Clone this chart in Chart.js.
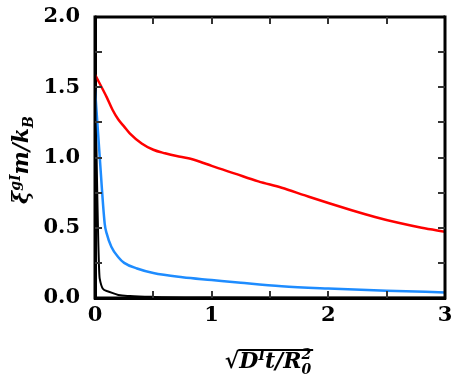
<!DOCTYPE html>
<html>
<head>
<meta charset="utf-8">
<script src="https://cdn.jsdelivr.net/npm/chart.js@4.4.0/dist/chart.umd.min.js"></script>
<style>
  html, body { margin: 0; padding: 0; background: #fff; }
  #wrap { width: 451px; height: 381px; }
</style>
</head>
<body>
<div id="wrap"><canvas id="xiChart" width="451" height="381"></canvas></div>
<script>
// --- Data ---
const redX = [0, 0.1, 0.15, 0.2, 0.25, 0.3, 0.4, 0.5, 0.6, 0.7, 0.8, 0.9, 1.0, 1.2, 1.4, 1.6, 1.8, 2.0, 2.2, 2.4, 2.6, 2.8, 3.0];
const redY = [1.59, 1.43, 1.34, 1.27, 1.22, 1.17, 1.10, 1.055, 1.03, 1.01, 0.995, 0.97, 0.94, 0.885, 0.83, 0.785, 0.73, 0.676, 0.625, 0.577, 0.535, 0.50, 0.472];

const blueX = [0, 0.04, 0.083, 0.1, 0.14, 0.2, 0.25, 0.36, 0.5, 0.75, 1.0, 1.25, 1.6, 2.0, 2.5, 3.0];
const blueY = [1.49, 1.01, 0.53, 0.46, 0.365, 0.29, 0.25, 0.21, 0.178, 0.148, 0.128, 0.108, 0.083, 0.067, 0.052, 0.04];

const blackX = [0, 0.04, 0.1, 0.2, 0.3, 0.5, 1.0, 2.0, 3.0];
const blackY = [1.6, 0.14, 0.05, 0.022, 0.014, 0.008, 0.004, 0.002, 0.001];

const xTickValues = [0, 1, 2, 3];
const yTickValues = [0, 0.5, 1.0, 1.5, 2.0];
const xMinorTicks = [0.5, 1, 1.5, 2, 2.5];
const yMinorTicks = [0.25, 0.5, 0.75, 1, 1.25, 1.5, 1.75];

function toPoints(xs, ys) {
    return xs.map((x, i) => ({ x: x, y: ys[i] }));
}

const LABEL_FONT = '"DejaVu Serif", "Liberation Serif", serif';

// --- Heavy frame + inward ticks ---
const framePlugin = {
    id: 'boxFrame',
    afterDatasetsDraw(chart) {
        const ctx = chart.ctx;
        const a = chart.chartArea;
        const xs = chart.scales.x, ys = chart.scales.y;
        const len = 7;
        ctx.save();
        // frame as four filled bars
        ctx.fillStyle = '#000000';
        ctx.fillRect(a.left, a.top - 1.5, a.right - a.left, 3);
        ctx.fillRect(a.right - 1.5, a.top - 1.5, 3, a.bottom - a.top + 3);
        ctx.fillRect(a.left - 1.5, a.top - 1.5, 3, a.bottom - a.top + 3);
        ctx.fillRect(a.left, a.bottom - 1.5, a.right - a.left, 3);
        // inward ticks, drawn after the frame so they sit on top of it
        ctx.fillStyle = '#333333';
        xMinorTicks.forEach(v => {
            const px = Math.round(xs.getPixelForValue(v));
            ctx.fillRect(px - 1, a.bottom - len, 2, len);
            ctx.fillRect(px - 1, a.top, 2, len);
        });
        yMinorTicks.forEach(v => {
            const py = Math.round(ys.getPixelForValue(v));
            ctx.fillRect(a.left, py - 1, len, 2);
            ctx.fillRect(a.right - len, py - 1, len, 2);
        });
        ctx.restore();
    }
};

// draw a run of text pieces (with super/subscripts) centred on cx
function drawRich(ctx, parts, cx, baseY) {
    let total = 0;
    parts.forEach(p => {
        ctx.font = p.font;
        p.w = ctx.measureText(p.t).width;
        if (!p.stack) total += p.w;
    });
    let x = cx - total / 2;
    let lastX = x;
    const spans = [];
    parts.forEach(p => {
        ctx.font = p.font;
        const px = p.stack ? lastX : x;
        ctx.fillText(p.t, px, baseY + (p.dy || 0));
        spans.push({ x0: px, x1: px + p.w });
        if (!p.stack) { lastX = x; x += p.w; }
    });
    return { left: cx - total / 2, right: cx + total / 2, spans: spans };
}

// --- Axis titles ---
const titlePlugin = {
    id: 'axisTitles',
    afterDraw(chart) {
        const ctx = chart.ctx;
        const big = 'italic bold 22px ' + LABEL_FONT;
        const small = 'italic bold 14px ' + LABEL_FONT;
        ctx.save();
        ctx.fillStyle = '#000';
        ctx.textBaseline = 'alphabetic';

        // y title: xi^{gI} m / k_B
        ctx.save();
        ctx.translate(28, 160);
        ctx.rotate(-Math.PI / 2);
        drawRich(ctx, [
            { t: 'ξ', font: big },
            { t: 'gI', font: small, dy: -8 },
            { t: 'm/k', font: big },
            { t: 'B', font: small, dy: 5 }
        ], 0, 0);
        ctx.restore();

        // x title: sqrt(D^I t / R_0^2)
        const res = drawRich(ctx, [
            { t: '√', font: 'bold 22px ' + LABEL_FONT },
            { t: 'D', font: big },
            { t: 'I', font: small, dy: -8 },
            { t: 't/R', font: big },
            { t: '0', font: small, dy: 6 },
            { t: '2', font: small, dy: -9, stack: true }
        ], 268, 368);
        ctx.fillRect(res.spans[1].x0 - 1, 349, res.right + 3 - res.spans[1].x0, 2);
        ctx.restore();
    }
};

const tickFont = { family: LABEL_FONT, size: 21, weight: 'bold' };

new Chart(document.getElementById('xiChart').getContext('2d'), {
    type: 'line',
    data: {
        datasets: [
            { data: toPoints(redX, redY), borderColor: '#ff0000', borderWidth: 2.5 },
            { data: toPoints(blueX, blueY), borderColor: '#1e8cff', borderWidth: 2.5 },
            { data: toPoints(blackX, blackY), borderColor: '#000000', borderWidth: 2 }
        ]
    },
    options: {
        responsive: false,
        animation: false,
        devicePixelRatio: 1,
        layout: { padding: { top: 17, right: 6, left: 0, bottom: 0 } },
        elements: {
            point: { radius: 0 },
            line: { cubicInterpolationMode: 'monotone', fill: false }
        },
        plugins: { legend: { display: false }, tooltip: { enabled: false } },
        scales: {
            x: {
                type: 'linear', min: 0, max: 3,
                afterBuildTicks: s => { s.ticks = xTickValues.map(v => ({ value: v })); },
                // fixed height, and no extra room for label overhang
                afterFit: s => { s.height = 83; s.paddingLeft = 0; s.paddingRight = 0; },
                grid: { display: false, drawTicks: false },
                border: { display: true, color: '#000', width: 3 },
                ticks: { font: tickFont, color: '#000', padding: 5, maxRotation: 0, autoSkip: false,
                         callback: v => String(v) }
            },
            y: {
                type: 'linear', min: 0, max: 2,
                afterBuildTicks: s => { s.ticks = yTickValues.map(v => ({ value: v })); },
                afterFit: s => { s.width = 95; s.paddingTop = 0; s.paddingBottom = 0; },
                grid: { display: false, drawTicks: false },
                border: { display: true, color: '#000', width: 3 },
                ticks: { font: tickFont, color: '#000', padding: 15, autoSkip: false,
                         callback: v => Number(v).toFixed(1) }
            }
        }
    },
    plugins: [framePlugin, titlePlugin]
});
</script>
</body>
</html>
